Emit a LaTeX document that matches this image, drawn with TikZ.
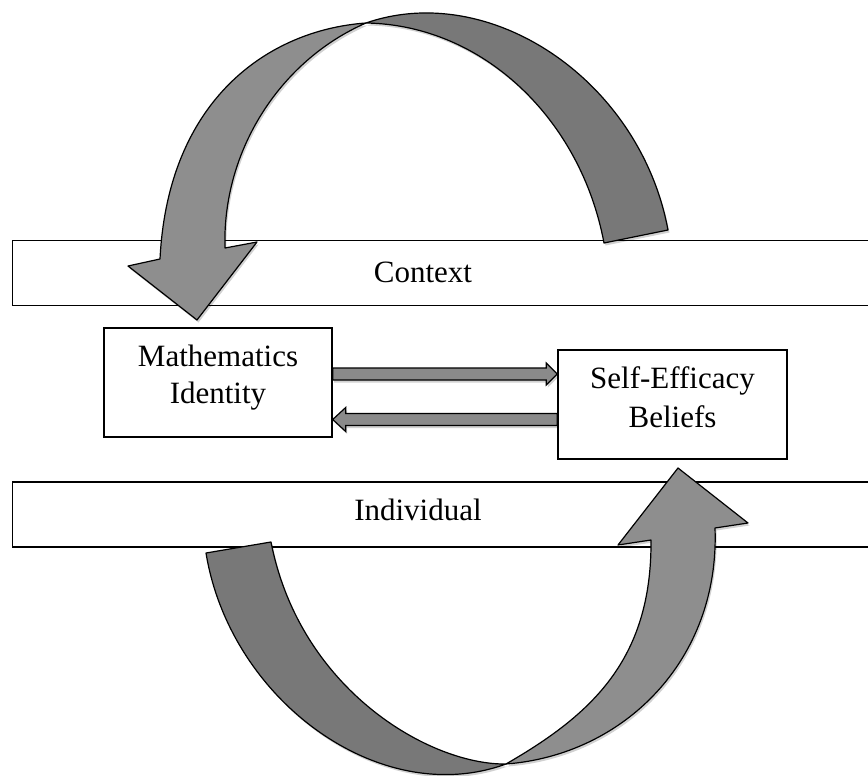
\documentclass[tikz,border=0pt]{standalone}
\usepackage{fontspec}
\setmainfont{Liberation Serif}
\usetikzlibrary{calc,shadows}
\definecolor{banddark}{HTML}{787878}
\definecolor{bandlight}{HTML}{8E8E8E}
\definecolor{linkfill}{HTML}{8A8A8A}
\tikzset{
  bar/.style={draw=black, fill=white, line width=1.4pt, minimum height=65pt, inner sep=0pt, anchor=west},
  conceptbox/.style={draw=black, fill=white, line width=1.4pt, minimum width=228pt, minimum height=109pt, inner sep=0pt},
  caption/.style={font=\fontsize{31}{37}\selectfont, align=center, inner sep=0pt},
  softshadow/.style={drop shadow={shadow xshift=1.5pt, shadow yshift=-2.5pt, opacity=0.18, fill=black}},
  darkband/.style={fill=banddark, draw=black, line width=1.2pt, line join=round, softshadow},
  lightband/.style={fill=bandlight, draw=black, line width=1.2pt, line join=round, softshadow},
  linkarrow/.style={fill=linkfill, draw=black, line width=1.2pt, line join=miter, softshadow}
}
\begin{document}
\begin{tikzpicture}[x=1pt, y=-1pt]
\useasboundingbox (0,0) rectangle (868,776);

% horizontal bands
\node[bar, minimum width=900pt] (ctxbar) at (12,273) {};
\node[caption] (ctx) at (423,272) {Context};
\node[bar, minimum width=900pt] (indbar) at (12,514.5) {};
\node[caption] (ind) at (418,510) {Individual};

% concept boxes
\node[conceptbox] (mi) at (218,382.5) {};
\node[caption] (milabel) at (218,378) {Mathematics\\Identity};
\node[conceptbox, minimum width=229pt] (se) at (672.5,404.5) {};
\node[caption, font=\fontsize{31}{39}\selectfont] (selabel) at (672.5,397) {Self-Efficacy\\Beliefs};

% reciprocal links between the two boxes
\coordinate (row1) at (0,374);
\coordinate (row2) at (0,419.5);
\coordinate (a) at (mi.east |- row1);
\coordinate (b) at (se.west |- row1);
\coordinate (c) at (se.west |- row2);
\coordinate (d) at (mi.east |- row2);
\draw[linkarrow] ($(a)+(0,-6)$) -- ($(b)+(-11,-6)$) -- ($(b)+(-11,-11)$) -- (b)
  -- ($(b)+(-11,11)$) -- ($(b)+(-11,6)$) -- ($(a)+(0,6)$) -- cycle;
\draw[linkarrow] ($(c)+(0,-6)$) -- ($(d)+(13,-6)$) -- ($(d)+(13,-12)$) -- (d)
  -- ($(d)+(13,12)$) -- ($(d)+(13,6)$) -- ($(c)+(0,6)$) -- cycle;

% upper twisted arrow (context acting on identity)
\coordinate (topx) at (366,23);
\draw[darkband] (topx) .. controls (490,-20) and (640,80) .. (668,230)
  -- (604,243) .. controls (581,120) and (484,25) .. (topx) -- cycle;
\draw[lightband] (topx) .. controls (268,30) and (168,100) .. (160,259)
  -- (128,266) -- (197,320) -- (257,242) -- (225,248)
  .. controls (222,150) and (281,60) .. (topx) -- cycle;

% lower twisted arrow (individual acting on self-efficacy)
\coordinate (botx) at (506,764);
\draw[darkband] (206,553) .. controls (230,700) and (380,810) .. (botx)
  .. controls (430,765) and (300,690) .. (271,542) -- cycle;
\draw[lightband] (botx) .. controls (624,755) and (720,660) .. (715,528)
  -- (748,523) -- (678,468) -- (618,545) -- (651,540)
  .. controls (652,660) and (591,715) .. (botx) -- cycle;
\end{tikzpicture}
\end{document}
